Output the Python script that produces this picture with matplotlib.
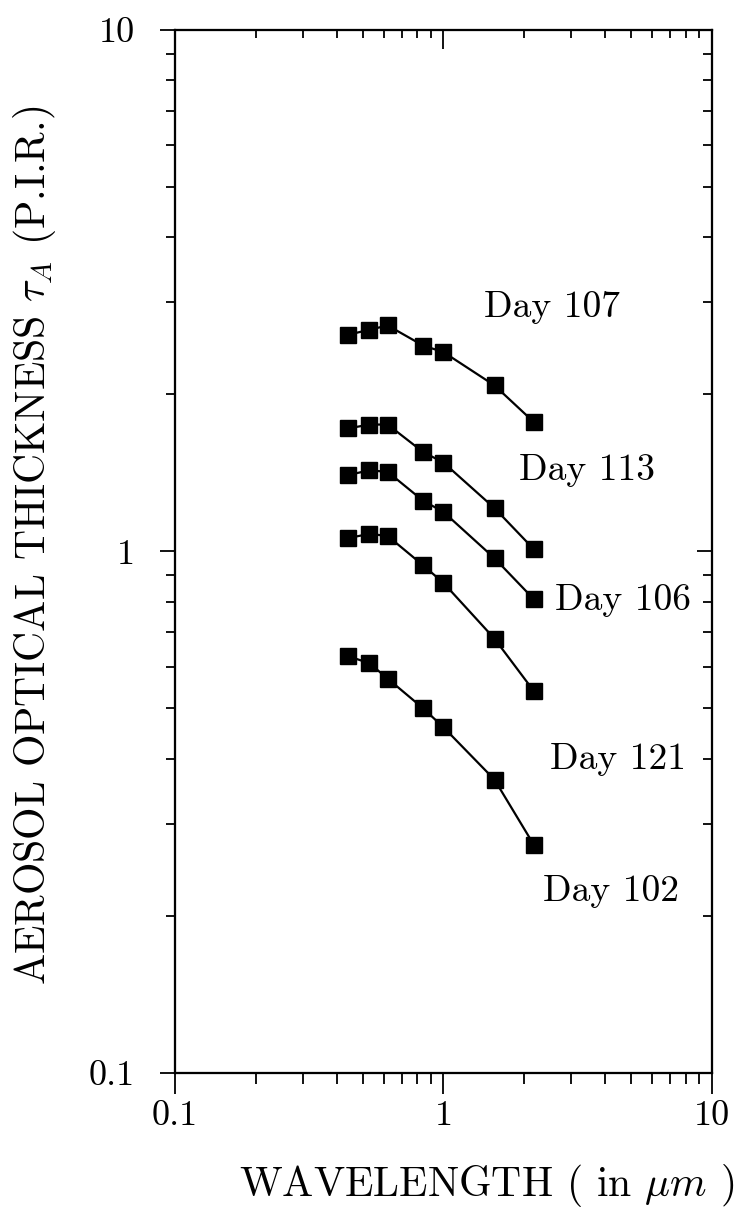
import numpy as np
import matplotlib
matplotlib.use("Agg")
import matplotlib.pyplot as plt
from matplotlib.ticker import LogLocator, FixedLocator, FixedFormatter, NullFormatter

plt.rcParams['font.family'] = ['cmr10', 'DejaVu Serif']
plt.rcParams['mathtext.fontset'] = 'cm'
plt.rcParams['axes.formatter.use_mathtext'] = True

# wavelengths (micrometres), same for every day
wavelength = [0.44, 0.53, 0.62, 0.84, 1.0, 1.55, 2.17]

# aerosol optical thickness per day
day_107 = [2.60, 2.66, 2.71, 2.48, 2.41, 2.08, 1.77]
day_113 = [1.72, 1.75, 1.75, 1.55, 1.48, 1.21, 1.01]
day_106 = [1.40, 1.43, 1.42, 1.25, 1.19, 0.97, 0.81]
day_121 = [1.06, 1.08, 1.07, 0.94, 0.87, 0.68, 0.54]
day_102 = [0.63, 0.61, 0.57, 0.50, 0.46, 0.365, 0.274]

series = [day_107, day_113, day_106, day_121, day_102]
day_names = ["Day 107", "Day 113", "Day 106", "Day 121", "Day 102"]
label_x = [1.42, 1.92, 2.60, 2.50, 2.36]
label_y = [2.93, 1.43, 0.805, 0.40, 0.223]

fig = plt.figure(figsize=(7.36, 12.23), dpi=100)
ax = fig.add_axes([0.238, 0.1227, 0.729, 0.853])

for vals in series:
    ax.plot(wavelength, vals, color='black', linewidth=1.6,
            marker='s', markersize=11, markerfacecolor='black',
            markeredgecolor='black')

for name, lx, ly in zip(day_names, label_x, label_y):
    ax.text(lx, ly, name, ha='left', va='center', fontsize=27)

ax.set_xscale('log')
ax.set_yscale('log')
ax.set_xlim(0.1, 10)
ax.set_ylim(0.1, 10)

major = [0.1, 1, 10]
major_labels = ['0.1', '1', '10']
for axis in (ax.xaxis, ax.yaxis):
    axis.set_major_locator(FixedLocator(major))
    axis.set_major_formatter(FixedFormatter(major_labels))
    axis.set_minor_locator(LogLocator(base=10, subs=np.arange(2, 10)))
    axis.set_minor_formatter(NullFormatter())

ax.tick_params(axis='x', which='major', direction='out', length=15, width=1.3,
               labelsize=26, pad=5)
ax.tick_params(axis='x', which='minor', direction='out', length=8, width=1.3)
ax.tick_params(axis='y', which='major', direction='out', length=11, width=1.3,
               labelsize=26, pad=18)
ax.tick_params(axis='y', which='minor', direction='out', length=6.5, width=1.3)

# inward ticks on top and right
axt = ax.twiny()
axt.set_xscale('log')
axt.set_xlim(0.1, 10)
axt.xaxis.set_major_locator(FixedLocator(major))
axt.xaxis.set_minor_locator(LogLocator(base=10, subs=np.arange(2, 10)))
axt.xaxis.set_major_formatter(NullFormatter())
axt.xaxis.set_minor_formatter(NullFormatter())
axt.tick_params(axis='x', which='major', direction='in', length=14, width=1.3)
axt.tick_params(axis='x', which='minor', direction='in', length=6, width=1.3)

axr = ax.twinx()
axr.set_yscale('log')
axr.set_ylim(0.1, 10)
axr.yaxis.set_major_locator(FixedLocator(major))
axr.yaxis.set_minor_locator(LogLocator(base=10, subs=np.arange(2, 10)))
axr.yaxis.set_major_formatter(NullFormatter())
axr.yaxis.set_minor_formatter(NullFormatter())
axr.tick_params(axis='y', which='major', direction='in', length=11, width=1.3)
axr.tick_params(axis='y', which='minor', direction='in', length=6.5, width=1.3)

for a in (ax, axt, axr):
    for sp in a.spines.values():
        sp.set_linewidth(1.5)

ax.set_xlabel(r'WAVELENGTH ( in $\mu m$ )', fontsize=30)
ax.xaxis.set_label_coords(0.58, -0.085)
ax.set_ylabel(r'AEROSOL OPTICAL THICKNESS $\tau_A$ (P.I.R.)', fontsize=30)
ax.yaxis.set_label_coords(-0.219, 0.506)

fig.savefig('out.png', dpi=100)
